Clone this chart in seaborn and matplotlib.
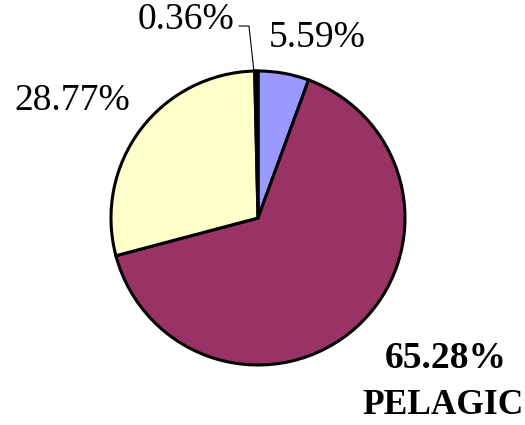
import matplotlib
matplotlib.use("Agg")
import matplotlib.pyplot as plt
import seaborn as sns

# slice values, clockwise from 12 o'clock
shares = [5.59, 65.28, 28.77, 0.36]
slice_names = ["", "PELAGIC", "", ""]
slice_colors = ["#9999FF", "#993366", "#FFFFCC", "#000000"]

sns.set_theme(style="white")
plt.rcParams['font.family'] = ['Liberation Serif', 'DejaVu Serif']
plt.rcParams['text.color'] = 'black'

H = 425
fig = plt.figure(figsize=(5.25, 4.25), dpi=100)
ax = fig.add_axes([0, 0, 1, 1])

ax.pie(shares, colors=slice_colors, startangle=90, counterclock=False,
       center=(258, H - 218), radius=147,
       wedgeprops=dict(edgecolor="black", linewidth=2.2))
ax.set_xlim(0, 525)
ax.set_ylim(0, H)
ax.set_aspect("equal")
ax.axis("off")

fs = 27
ax.text(317, H - 38, f"{shares[0]:.2f}%", fontsize=fs, ha="center", va="center")
ax.text(72, H - 101, f"{shares[2]:.2f}%", fontsize=fs, ha="center", va="center")
ax.text(186, H - 20, f"{shares[3]:.2f}%", fontsize=fs, ha="center", va="center")
ax.text(446, H - 359, f"{shares[1]:.2f}%", fontsize=fs, ha="center", va="center",
        fontweight="bold")
ax.text(443, H - 406, slice_names[1], fontsize=25.5, ha="center", va="center",
        fontweight="bold")

# leader line for the tiny slice
ax.plot([239, 249, 254], [H - 26, H - 26, H - 72], color="black", linewidth=0.8)

fig.savefig("out.png", dpi=100)
